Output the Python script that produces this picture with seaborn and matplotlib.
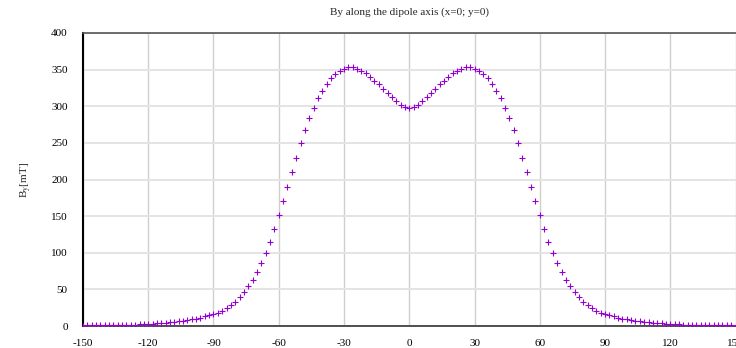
import matplotlib
matplotlib.use("Agg")
import matplotlib.pyplot as plt
import pandas as pd
import seaborn as sns

# Position along the dipole axis (mm) and By values (mT)
x_pos = list(range(-150, 151, 2))
by_vals = [
    0.6, 0.7, 0.7, 0.8, 0.9, 1.0, 1.1, 1.2, 1.3, 1.5,
    1.6, 1.8, 2.0, 2.3, 2.5, 2.8, 3.1, 3.5, 3.9, 4.4,
    5.0, 5.6, 6.3, 7.1, 8.0, 9.0, 10.0, 11.5, 13.0, 14.5,
    16.0, 18.0, 21.0, 24.0, 28.0, 33.0, 39.0, 46.0, 54.0, 63.0,
    74.0, 86.0, 100.0, 115.0, 133.0, 151.0, 170.0, 190.0, 210.0, 230.0,
    250.0, 267.0, 284.0, 298.0, 311.0, 321.0, 330.0, 338.0, 344.0, 348.0,
    351.0, 353.0, 353.0, 351.0, 348.0, 345.0, 340.0, 335.0, 330.0, 324.0,
    318.0, 312.0, 307.0, 302.0, 299.0,
    297.0,
    299.0, 302.0, 307.0, 312.0, 318.0, 324.0, 330.0, 335.0, 340.0, 345.0,
    348.0, 351.0, 353.0, 353.0, 351.0, 348.0, 344.0, 338.0, 330.0, 321.0,
    311.0, 298.0, 284.0, 267.0, 250.0, 230.0, 210.0, 190.0, 170.0, 151.0,
    133.0, 115.0, 100.0, 86.0, 74.0, 63.0, 54.0, 46.0, 39.0, 33.0,
    28.0, 24.0, 21.0, 18.0, 16.0, 14.5, 13.0, 11.5, 10.0, 9.0,
    8.0, 7.1, 6.3, 5.6, 5.0, 4.4, 3.9, 3.5, 3.1, 2.8,
    2.5, 2.3, 2.0, 1.8, 1.6, 1.5, 1.3, 1.2, 1.1, 1.0,
    0.9, 0.8, 0.7, 0.7, 0.6,
]
x_ticks = list(range(-150, 151, 30))
y_ticks = list(range(0, 401, 50))

df = pd.DataFrame({"x": x_pos, "By": by_vals})

sns.set_style("white")
plt.rcParams["font.family"] = ["Liberation Serif", "DejaVu Serif"]
plt.rcParams["mathtext.fontset"] = "stix"
plt.rcParams["axes.unicode_minus"] = False

fig = plt.figure(figsize=(7.36, 3.48), dpi=100)
ax = fig.add_axes([83 / 736, 22 / 348, 652.5 / 736, 293 / 348])

sns.scatterplot(data=df, x="x", y="By", marker="+", color="#9400d3",
                s=20, linewidth=0.8, ax=ax, zorder=3)

ax.set_xlim(-150, 150)
ax.set_ylim(0, 400)
ax.set_xticks(x_ticks)
ax.set_yticks(y_ticks)

ax.xaxis.grid(True, color="#cfcfcf", linewidth=1.0)
ax.yaxis.grid(True, color="#e4e4e4", linewidth=1.4)
ax.set_axisbelow(True)

ax.spines["right"].set_visible(False)
ax.spines["left"].set_color("black")
ax.spines["left"].set_linewidth(1.5)
ax.spines["bottom"].set_color("#333333")
ax.spines["bottom"].set_linewidth(1.2)
ax.spines["top"].set_color("#555555")
ax.spines["top"].set_linewidth(1.2)

ax.tick_params(axis="both", direction="out", length=3, width=1,
               labelsize=8, colors="black", pad=6)
ax.tick_params(axis="y", pad=8)

ax.set_xlabel("")
ax.set_ylabel(r"B$_\mathrm{y}$[mT]", fontsize=8, labelpad=12)
fig.text(409 / 736, 1 - 12 / 348, "By along the dipole axis (x=0; y=0)",
         ha="center", va="center", fontsize=8)

fig.savefig("out.png", dpi=100)
